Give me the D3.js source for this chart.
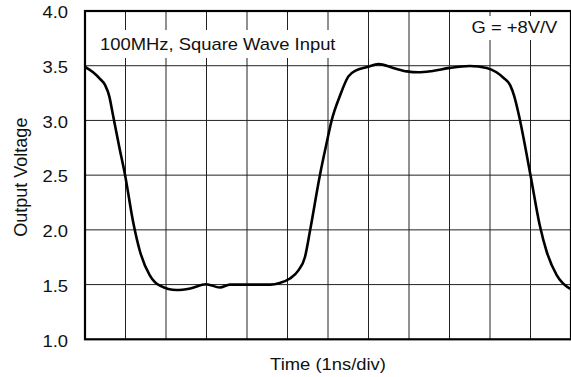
<!DOCTYPE html>
<html>
<head>
<meta charset="utf-8">
<script src="https://cdn.jsdelivr.net/npm/d3@7"></script>
<style>
  html, body { margin: 0; padding: 0; background: #fff; }
  text { font-family: "Liberation Sans", Arial, Helvetica, sans-serif; fill: #111; }
</style>
</head>
<body>
<svg id="chart" width="571" height="377"></svg>
<script>
// ---- data ----
const timeDiv = [0, 0.2, 0.37, 0.5, 0.6, 0.68, 0.85, 0.99, 1.19, 1.36, 1.6, 1.85, 2.26, 2.6, 2.99, 3.33, 3.58, 4.0, 4.57, 4.81, 5.06, 5.27, 5.43, 5.56, 5.80, 5.97, 6.09, 6.30, 6.50, 6.71, 6.95, 7.25, 7.61, 7.95, 8.23, 8.55, 9.01, 9.5, 9.92, 10.16, 10.33, 10.5, 10.6, 10.7, 11.0, 11.23, 11.4, 11.65, 11.98];
const voltage = [3.49, 3.44, 3.38, 3.32, 3.22, 3.07, 2.75, 2.5, 2.07, 1.80, 1.585, 1.49, 1.45, 1.465, 1.503, 1.473, 1.50, 1.50, 1.50, 1.515, 1.555, 1.63, 1.75, 2.0, 2.5, 2.80, 3.0, 3.23, 3.40, 3.46, 3.485, 3.515, 3.48, 3.448, 3.44, 3.45, 3.48, 3.497, 3.48, 3.44, 3.39, 3.32, 3.22, 3.07, 2.5, 2.04, 1.80, 1.585, 1.46];
const yTicks = [1.0, 1.5, 2.0, 2.5, 3.0, 3.5, 4.0];
const xDivisions = [0, 1, 2, 3, 4, 5, 6, 7, 8, 9, 10, 11, 12];
const xTitle = "Time (1ns/div)";
const yTitle = "Output Voltage";
const note1 = "100MHz, Square Wave Input";
const note2 = "G = +8V/V";

// ---- layout ----
const svg = d3.select("#chart");
const x = d3.scaleLinear().domain([0, 12]).range([85, 571]);
const y = d3.scaleLinear().domain([1, 4]).range([339.3, 11]);
const sx = 1.15; // horizontal text stretch seen in the reference

// grid
svg.append("g").selectAll("line").data(xDivisions.slice(1, -1)).join("line")
  .attr("x1", d => x(d)).attr("x2", d => x(d))
  .attr("y1", y(4)).attr("y2", y(1))
  .attr("stroke", "#222").attr("stroke-width", 1);
svg.append("g").selectAll("line").data(yTicks.slice(1, -1)).join("line")
  .attr("x1", x(0)).attr("x2", x(12))
  .attr("y1", d => y(d)).attr("y2", d => y(d))
  .attr("stroke", "#222").attr("stroke-width", 1);

// annotation boxes (white background cutting the grid)
function note(txt, tx, ty, bx, by, bw, bh) {
  svg.append("rect").attr("x", bx).attr("y", by).attr("width", bw).attr("height", bh).attr("fill", "#fff");
  svg.append("text").attr("transform", `translate(${tx},${ty}) scale(${sx},1)`)
    .attr("font-size", 16).text(txt);
}
note(note1, 100, 50, 95, 30, 250, 28);
note(note2, 471.5, 33.3, 465, 16, 97, 24);

// curve
const line = d3.line()
  .x((d, i) => x(timeDiv[i]))
  .y((d, i) => y(voltage[i]))
  .curve(d3.curveMonotoneX);
svg.append("path").datum(voltage)
  .attr("d", line)
  .attr("fill", "none").attr("stroke", "#000").attr("stroke-width", 2.6)
  .attr("stroke-linejoin", "round");

// frame
svg.append("rect")
  .attr("x", x(0)).attr("y", y(4))
  .attr("width", x(12) - x(0)).attr("height", y(1) - y(4))
  .attr("fill", "none").attr("stroke", "#000").attr("stroke-width", 2.2);

// y tick labels
svg.append("g").selectAll("text").data(yTicks).join("text")
  .attr("transform", d => `translate(68,${y(d) + 7.3}) scale(${sx},1)`)
  .attr("text-anchor", "end").attr("font-size", 16)
  .text(d => d.toFixed(1));

// axis titles
svg.append("text")
  .attr("transform", `translate(${(x(0) + x(12)) / 2},370) scale(${sx},1)`)
  .attr("text-anchor", "middle").attr("font-size", 16).text(xTitle);
svg.append("text")
  .attr("transform", `translate(26.7,${(y(1) + y(4)) / 2 + 2}) rotate(-90)`)
  .attr("text-anchor", "middle").attr("font-size", 18).text(yTitle);
</script>
</body>
</html>
